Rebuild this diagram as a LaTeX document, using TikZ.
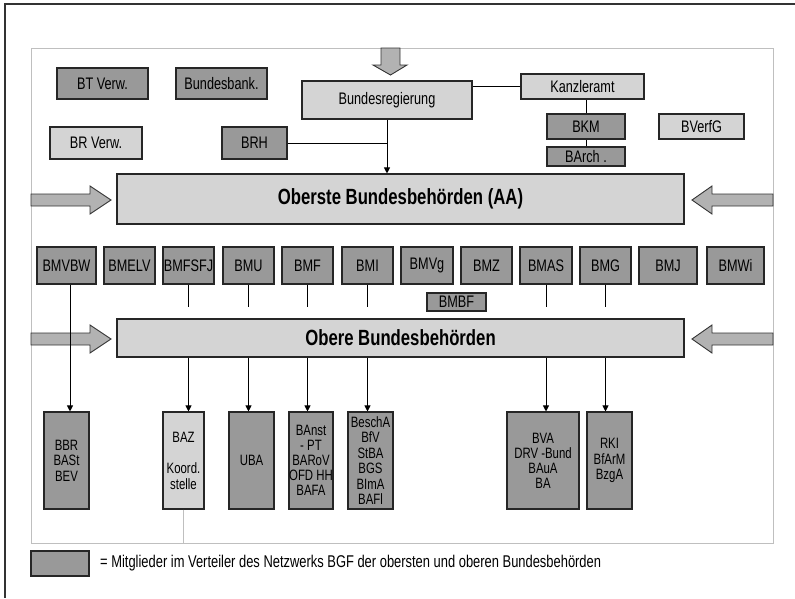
\documentclass[tikz,border=0pt]{standalone}
\usepackage{fontspec}
\setmainfont{Liberation Sans}[FakeStretch=0.76]
\usetikzlibrary{arrows.meta}
\definecolor{boxdark}{gray}{0.6}
\definecolor{boxlight}{gray}{0.83}
\definecolor{arrowfill}{gray}{0.7}
\definecolor{framegray}{gray}{0.75}

\begin{document}
\begin{tikzpicture}
[x=1pt,y=-1pt,
  darkbox/.style={shape=rectangle,draw=black!85,fill=boxdark,line width=1.1pt,inner sep=0pt,font=\fontsize{16.7}{18}\selectfont},%
  lightbox/.style={darkbox,fill=boxlight},%
  lowerbox/.style={darkbox,align=center,minimum height=97pt},%
  linedecorate/.style={-,line width=1pt},%
  arrowdecorate/.style={-{Triangle[length=6pt,width=6pt]},line width=1pt},%
  blockarrow/.style={draw=black!80,fill=arrowfill,line width=0.9pt}]
\useasboundingbox (0,0) rectangle (795,598);
%% frames
\draw[line width=1.4pt,black!80] (795,4) -- (5,4) -- (5,598);
\draw[line width=1pt,framegray] (31,48) rectangle (773,543);
%% block arrows
\draw[blockarrow] (381,48) -- (400,48) -- (400,65) -- (407,65) -- (390.5,75)
  -- (373,65) -- (381,65) -- cycle;
\foreach \yc in {200,339} {
  \draw[blockarrow] (31,{\yc-6}) -- (90,{\yc-6}) -- (90,{\yc-14}) -- (111,\yc)
    -- (90,{\yc+14}) -- (90,{\yc+6}) -- (31,{\yc+6}) -- cycle;
  \draw[blockarrow] (773,{\yc-6}) -- (712,{\yc-6}) -- (712,{\yc-14}) -- (692,\yc)
    -- (712,{\yc+14}) -- (712,{\yc+6}) -- (773,{\yc+6}) -- cycle;
}
%% upper boxes
\foreach \nodename/\x/\y/\w/\h/\txt in {
btverw/102.5/83.5/91/31/BT Verw., bbank/221.5/83.5/91/31/Bundesbank.,
brh/254.5/143/65/32/BRH, bkm/586/126.5/78/25/BKM, barch/586/156.5/78/19/BArch .}
{
  \node (\nodename) at (\x,\y) [darkbox,minimum width=\w pt,minimum height=\h pt] {\txt};
}
\foreach \nodename/\x/\y/\w/\h/\txt in {
brverw/96/143/92/32/BR Verw., breg/387/100/170/38/Bundesregierung,
kanzl/582.5/86.5/123/25/Kanzleramt, bverfg/701.5/126.5/85/25/BVerfG}
{
  \node (\nodename) at (\x,\y) [lightbox,minimum width=\w pt,minimum height=\h pt] {\txt};
}
%% the two levels
\node (oberste) at (400.5,199) [lightbox,minimum width=567pt,minimum height=50pt,
  font=\bfseries\fontsize{22}{24}\selectfont] {Oberste Bundesbehörden (AA)};
\node (obere) at (400.5,338) [lightbox,minimum width=567pt,minimum height=38pt,
  font=\bfseries\fontsize{22}{24}\selectfont] {Obere Bundesbehörden};
%% ministries
\foreach \nodename/\x/\w/\txt in {
bmvbw/66.5/59/BMVBW, bmelv/129.5/51/BMELV, bmfsfj/188.5/51/BMFSFJ, bmu/248.5/51/BMU,
bmf/307.5/51/BMF, bmi/367.5/51/BMI, bmvg/427/52/BMVg, bmz/486.5/51/BMZ,
bmas/546/52/BMAS, bmg/605.5/51/BMG, bmj/668/58/BMJ, bmwi/735.5/57/BMWi}
{
  \node (\nodename) at (\x,265.5) [darkbox,minimum width=\w pt,minimum height=37pt] {\txt};
}
\node (bmbf) at (456.5,302) [darkbox,minimum width=59pt,minimum height=18pt] {BMBF};
%% lower authorities
\node (bbr) at (66.5,460.5) [lowerbox,minimum width=45pt,font=\fontsize{15}{15.5}\selectfont] {BBR\\BASt\\BEV};
\node (baz) at (183.5,460.5) [lowerbox,fill=boxlight,minimum width=41pt,font=\fontsize{15}{16}\selectfont] {BAZ\\[15pt]Koord.\\stelle};
\node (uba) at (251.5,460.5) [lowerbox,minimum width=45pt,font=\fontsize{15}{15}\selectfont] {UBA};
\node (banst) at (311,460.5) [lowerbox,minimum width=44pt,font=\fontsize{15}{15}\selectfont] {BAnst\\- PT\\BARoV\\OFD HH\\BAFA};
\node (bescha) at (370.5,460.5) [lowerbox,minimum width=45pt,font=\fontsize{15}{15.5}\selectfont] {BeschA\\BfV\\StBA\\BGS\\BImA\\BAFl};
\node (bva) at (543,460.5) [lowerbox,minimum width=72pt,font=\fontsize{15}{15}\selectfont] {BVA\\DRV -Bund\\BAuA\\BA};
\node (rki) at (609.5,460.5) [lowerbox,minimum width=45pt,font=\fontsize{15}{15.5}\selectfont] {RKI\\BfArM\\BzgA};
%% legend
\node (legendbox) at (60,563.5) [darkbox,minimum width=58pt,minimum height=25pt] {};
\node (legendtext) at (100,563.5) [anchor=west,inner sep=0pt,font=\fontsize{17}{19}\selectfont]
  {= Mitglieder im Verteiler des Netzwerks BGF der obersten und oberen Bundesbehörden};
%% connectors
\draw[linedecorate] (kanzl.west) -- (kanzl.west -| breg.east);
\draw[linedecorate] (bkm.north) -- (bkm.north |- kanzl.south);
\draw[linedecorate] (barch.north) -- (bkm.south);
\draw[linedecorate] (brh.east) -- (brh.east -| breg.south);
\draw[arrowdecorate] (breg.south) -- (breg.south |- oberste.north);
\draw[arrowdecorate] ([xshift=3.5pt]bmvbw.south) -- ([xshift=3.5pt]bbr.north);
\draw[line width=1pt,framegray] (baz.south) -- (baz.south |- 0,543);
\path
\foreach \startnode/\endnode in {
bmfsfj/baz, bmu/uba, bmf/banst, bmi/bescha, bmas/bva, bmg/rki}
{
  (\startnode.south) edge[linedecorate] ++(0,22)
  (\startnode.south |- obere.south) edge[arrowdecorate] (\startnode.south |- \endnode.north)
};
\end{tikzpicture}
\end{document}
